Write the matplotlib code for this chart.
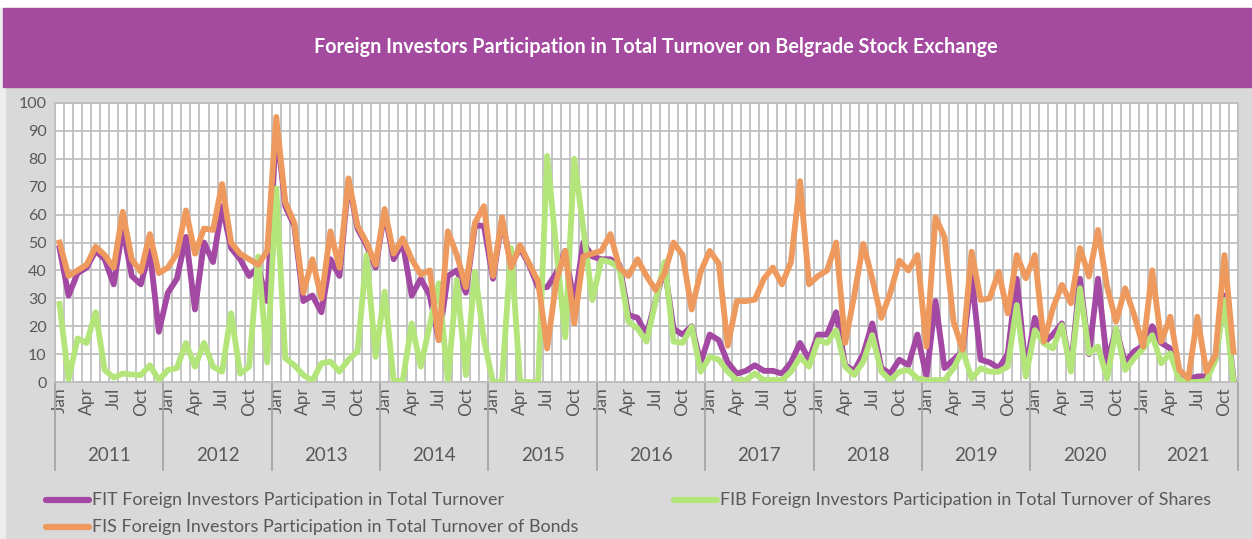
import numpy as np
import matplotlib
matplotlib.use("Agg")
from matplotlib import pyplot as plt
from matplotlib.lines import Line2D
from matplotlib.patches import Rectangle
import matplotlib.transforms as mtransforms

plt.rcParams['font.family'] = ['Lato', 'DejaVu Sans']

years = ["2011", "2012", "2013", "2014", "2015", "2016", "2017", "2018", "2019", "2020", "2021"]
months = ["Jan", "Feb", "Mar", "Apr", "May", "Jun", "Jul", "Aug", "Sep", "Oct", "Nov", "Dec"]
shown_months = ["Jan", "Apr", "Jul", "Oct"]

# FIT - total turnover (purple)
fit = [48, 31, 39, 41, 47, 44, 35, 55, 38, 35, 47, 18,
       32, 37, 52, 26, 50, 43, 63, 48, 44, 38, 41, 29,
       92, 63, 56, 29, 31, 25, 44, 38, 72, 55, 49, 41,
       61, 44, 50, 31, 37, 31, 15, 38, 40, 32, 56, 56,
       37, 58, 42, 48, 42, 34, 34, 39, 47, 28, 50, 45,
       44, 44, 42, 24, 23, 17, 29, 41, 19, 17, 20, 7,
       17, 15, 7, 3, 4, 6, 4, 4, 3, 7, 14, 8,
       17, 17, 25, 6, 4, 10, 21, 5, 3, 8, 6, 17,
       2, 29, 5, 8, 11, 38, 8, 7, 5, 10, 37, 4,
       23, 14, 17, 21, 5, 37, 10, 37, 7, 19, 7, 11,
       13, 20, 14, 12, 4, 1, 2, 2, 8, 31, 1]

# FIB - shares (green)
fib = [28, 1, 15.6, 14, 25, 4.3, 1.6, 3, 2.7, 2.5, 6, 0.7,
       4.3, 5, 14, 5.5, 14, 5.5, 3.7, 24.6, 3, 5.5, 45, 7,
       69.4, 8.5, 6, 2.5, 0.4, 6.7, 7.3, 3.7, 8, 11, 45.5, 9,
       32.4, 0.4, 0.4, 21, 5.5, 20.4, 35.4, 0.4, 36.6, 2.5, 39.5, 15,
       0, 0, 48, 0, 0, 0, 81, 48, 16, 80, 55, 29.4,
       43.7, 43, 40.7, 21.6, 19.2, 14.5, 28.8, 43, 14.5, 14, 19.8, 3.7,
       9, 8, 3.7, 0.7, 0.7, 3, 0.7, 0.7, 0.7, 3.7, 9, 5.5,
       15, 14, 18.6, 5.5, 2.5, 7.3, 16.8, 3.7, 0.7, 3.7, 4.3, 1.3,
       0.7, 0.7, 0.7, 4.9, 11.5, 1.3, 4.9, 3.7, 3.7, 5.5, 27.6, 1.9,
       18.6, 13.9, 12, 20.4, 3.7, 33.6, 10.3, 12.7, 1.3, 19.2, 4.3, 8.5,
       12, 16.8, 6.7, 10.3, 0.7, 0, 0, 0.4, 7.9, 29.4, 0]

# FIS - bonds (orange)
fis = [50, 38, 40, 42, 48.5, 45.5, 41, 61, 44, 39.5, 53, 39,
       41, 46, 61.5, 46, 55, 54.5, 71, 50, 46, 44, 42, 47,
       95, 64.5, 57, 32, 44, 30, 54, 41, 73, 56, 50, 42,
       62, 46, 51.5, 44, 38.5, 40, 15, 54, 45.5, 34, 57, 63,
       38, 59, 41, 49, 42.5, 36, 12, 36, 47, 21, 45, 46,
       47, 53, 41, 38, 44, 38, 33, 39, 50, 45.5, 26, 39.5,
       47, 42.5, 13, 29, 29, 29.5, 37, 41, 35, 43, 72, 35,
       38, 40, 50, 14, 31, 49.5, 37, 23, 32, 43.5, 40, 45.5,
       12.7, 59, 52, 21.6, 11.5, 46.7, 29.4, 30, 39.5, 24.6, 45.5, 37.2,
       45.5, 14.5, 26.4, 34.8, 28.2, 48, 37.8, 54.5, 34.2, 21.6, 33.6, 24,
       12.7, 40, 14.5, 23.4, 4.3, 1.3, 23.4, 3.7, 9.7, 45.5, 10.9]

labels = ["FIT Foreign Investors Participation in Total Turnover",
          "FIB Foreign Investors Participation in Total Turnover of Shares",
          "FIS Foreign Investors Participation in Total Turnover of Bonds"]
title = "Foreign Investors Participation in Total Turnover on Belgrade Stock Exchange"

c_fit = "#A349A4"
c_fib = "#B3E57B"
c_fis = "#EE9A5E"
txt = "#595959"
bg = "#D9D9D9"

W, H = 1252, 539
fig = plt.figure(figsize=(W / 100, H / 100), dpi=100, facecolor=bg)

# white margins and title banner
fig.patches.append(Rectangle((0, 1 - 8 / H), 1, 8 / H, transform=fig.transFigure, color="white", zorder=0))
fig.patches.append(Rectangle((0, 0), 5 / W, 1 - 8 / H, transform=fig.transFigure, color="#EDEDED", zorder=0))
fig.patches.append(Rectangle((3 / W, 1 - 87 / H), 1 - 3 / W, 79 / H, transform=fig.transFigure,
                             color="#A44BA0", zorder=1))
fig.text(656 / W, 1 - 47 / H, title, color="white", fontsize=14.2, fontweight="bold",
         ha="center", va="center")

left, right, top, bottom = 55, 1238, 103, 382
ax = fig.add_axes([left / W, 1 - bottom / H, (right - left) / W, (bottom - top) / H])
ax.set_facecolor("white")

n = len(fit)
x = np.arange(n)
ax.plot(x, fit, color=c_fit, lw=4.2, solid_joinstyle="round", zorder=3)
ax.plot(x, fib, color=c_fib, lw=4.2, solid_joinstyle="round", zorder=4)
ax.plot(x, fis, color=c_fis, lw=4.2, solid_joinstyle="round", zorder=5)

ax.set_xlim(-0.5, n - 0.5)
ax.set_ylim(0, 100)
ax.set_yticks(np.arange(0, 101, 10))
ax.tick_params(axis="y", length=0, labelsize=11.5, labelcolor=txt, pad=6)

# month labels
ticks = [i for i in range(n) if months[i % 12] in shown_months]
ax.set_xticks(ticks)
ax.set_xticklabels([months[i % 12] for i in ticks], rotation=90, fontsize=12.5, color=txt)
ax.tick_params(axis="x", length=0, pad=4)
ax.set_xticks(np.arange(-0.5, n, 1), minor=True)
ax.tick_params(axis="x", which="minor", length=0)

ax.grid(True, which="minor", axis="x", color="#BFBFBF", lw=1.3)
ax.grid(True, which="major", axis="y", color="#BFBFBF", lw=1.3)
ax.set_axisbelow(True)
for s in ax.spines.values():
    s.set_color("#BFBFBF")
    s.set_linewidth(1.3)

# year labels and separators
trans = mtransforms.blended_transform_factory(ax.transData, ax.transAxes)
for k, yr in enumerate(years):
    start = k * 12
    end = min(start + 12, n)
    ax.text((start + end - 1) / 2, -0.265, yr, transform=trans, ha="center", va="center",
            fontsize=13.5, color=txt)
for b in range(0, n + 12, 12):
    bx = min(b, n) - 0.5
    ax.add_line(Line2D([bx, bx], [0, -0.315], transform=trans, color="#A6A6A6", lw=1.3, clip_on=False))

# legend
def leg(x0, y0, color, label):
    fig.add_artist(Line2D([x0 / W, (x0 + 43) / W], [1 - y0 / H, 1 - y0 / H], transform=fig.transFigure,
                          color=color, lw=4.5, solid_capstyle="round"))
    fig.text((x0 + 46) / W, 1 - y0 / H, label, color=txt, fontsize=12.9, va="center", ha="left")

leg(46, 500, c_fit, labels[0])
leg(674, 500, c_fib, labels[1])
leg(46, 527, c_fis, labels[2])

fig.savefig("out.png", dpi=100, facecolor=bg)
